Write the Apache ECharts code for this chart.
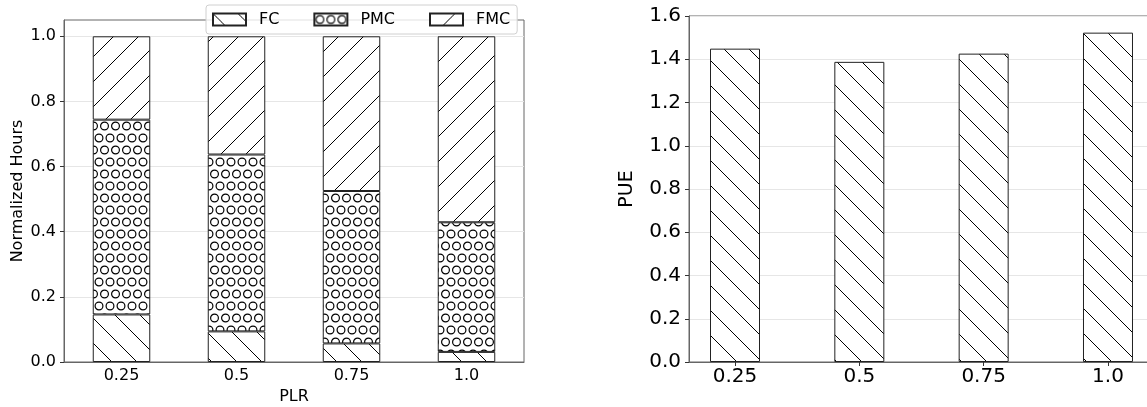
<!DOCTYPE html>
<html><head><meta charset="utf-8">
<script src="https://cdn.jsdelivr.net/npm/echarts@6/dist/echarts.min.js"></script>
<style>html,body{margin:0;padding:0;background:#fff}#c{width:1147px;height:407px}</style>
</head><body><div id="c"></div>
<script>
// ---- data ----
const categories = ['0.25', '0.5', '0.75', '1.0'];
const fcHours  = [0.146, 0.094, 0.057, 0.031];
const pmcHours = [0.598, 0.543, 0.468, 0.398];
const fmcHours = [0.256, 0.363, 0.475, 0.571];
const pueValues = [1.449, 1.388, 1.426, 1.523];
const leftYTicks = [0, 0.2, 0.4, 0.6, 0.8, 1.0];
const rightYTicks = [0, 0.2, 0.4, 0.6, 0.8, 1.0, 1.2, 1.4, 1.6];
const rightXPositions = [0, 1, 2, 3];

// ---- hatch patterns ----
function hatchLines(dir) {
  const s = 25;
  const c = document.createElement('canvas');
  c.width = s; c.height = s;
  const g = c.getContext('2d');
  g.fillStyle = '#fff'; g.fillRect(0, 0, s, s);
  g.strokeStyle = '#000'; g.lineWidth = 1;
  g.beginPath();
  for (let k = -1; k <= 1; k++) {
    if (dir === '/') { g.moveTo(k * s, s); g.lineTo(k * s + s, 0); }
    else { g.moveTo(k * s, 0); g.lineTo(k * s + s, s); }
  }
  g.stroke();
  return c;
}
function hatchCircles() {
  const w = 22, h = 24, r = 3.9;
  const c = document.createElement('canvas');
  c.width = w; c.height = h;
  const g = c.getContext('2d');
  g.fillStyle = '#fff'; g.fillRect(0, 0, w, h);
  g.strokeStyle = '#000'; g.lineWidth = 1.2;
  const pts = [[5.5, 6], [16.5, 6], [0, 18], [11, 18], [22, 18]];
  pts.forEach(p => { g.beginPath(); g.arc(p[0], p[1], r, 0, Math.PI * 2); g.stroke(); });
  return c;
}
const patBack = { image: hatchLines('\\'), repeat: 'repeat' };
const patFwd = { image: hatchLines('/'), repeat: 'repeat' };
const patCirc = { image: hatchCircles(), repeat: 'repeat' };

const FONT = 'DejaVu Sans';
const spine = '#666';
const gridLine = '#e6e6e6';
const LF = 16;   // left panel font size
const RF = 20;   // right panel font size

function barStyle(pat) {
  return { color: pat, borderColor: '#222', borderWidth: 1 };
}

const chart = echarts.init(document.getElementById('c'), null, { renderer: 'canvas' });
const option = {
  animation: false,
  backgroundColor: '#fff',
  textStyle: { fontFamily: FONT },
  legend: {
    data: ['FC', 'PMC', 'FMC'],
    left: 206, top: 5,
    padding: [5, 7, 5, 6],
    itemWidth: 33, itemHeight: 12, itemGap: 34,
    icon: 'rect',
    backgroundColor: 'rgba(255,255,255,0.8)',
    borderColor: '#d0d0d0', borderWidth: 1, borderRadius: 3,
    textStyle: { fontFamily: FONT, fontSize: LF, lineHeight: 19, color: '#000', padding: [0, 0, 0, 8] }
  },
  grid: [
    { left: 64, top: 20, width: 460, height: 342, outerBoundsMode: 'none', containLabel: false,
      show: true, borderColor: spine, borderWidth: 1, backgroundColor: 'transparent' },
    { left: 689, top: 16, width: 465, height: 346, outerBoundsMode: 'none', containLabel: false,
      show: true, borderColor: spine, borderWidth: 1, backgroundColor: 'transparent' }
  ],
  xAxis: [
    {
      type: 'category', gridIndex: 0, data: categories,
      name: 'PLR', nameLocation: 'middle', nameGap: 24,
      nameTextStyle: { fontFamily: FONT, fontSize: LF, color: '#000' },
      axisLine: { lineStyle: { color: spine, width: 1 } },
      axisTick: { alignWithLabel: true, length: 4, lineStyle: { color: '#333' } },
      axisLabel: { fontFamily: FONT, fontSize: LF, color: '#000', margin: 6 },
      splitLine: { show: false }
    },
    {
      type: 'value', gridIndex: 1, min: -0.37, max: 3.37,
      axisLine: { onZero: false, lineStyle: { color: spine, width: 1 } },
      axisTick: { length: 4, customValues: rightXPositions, lineStyle: { color: '#333' } },
      axisLabel: {
        fontFamily: FONT, fontSize: RF, color: '#000', margin: 5,
        customValues: rightXPositions,
        formatter: v => categories[Math.round(v)]
      },
      splitLine: { show: false }
    }
  ],
  yAxis: [
    {
      type: 'value', gridIndex: 0, min: 0, max: 1.05,
      name: 'Normalized Hours', nameLocation: 'middle', nameGap: 38,
      nameTextStyle: { fontFamily: FONT, fontSize: LF, color: '#000' },
      axisLine: { show: true, onZero: false, lineStyle: { color: spine, width: 1 } },
      axisTick: { show: true, length: 4, customValues: leftYTicks, lineStyle: { color: '#333' } },
      axisLabel: { fontFamily: FONT, fontSize: LF, color: '#000', margin: 8, customValues: leftYTicks,
        formatter: v => v.toFixed(1) },
      splitLine: { show: true, lineStyle: { color: gridLine, width: 1 } }
    },
    {
      type: 'value', gridIndex: 1, min: 0, max: 1.6, interval: 0.2,
      name: 'PUE', nameLocation: 'middle', nameGap: 52,
      nameTextStyle: { fontFamily: FONT, fontSize: 19, color: '#000' },
      axisLine: { show: true, onZero: false, lineStyle: { color: spine, width: 1 } },
      axisTick: { show: true, length: 4, customValues: rightYTicks, lineStyle: { color: '#333' } },
      axisLabel: { fontFamily: FONT, fontSize: RF, color: '#000', margin: 8, customValues: rightYTicks,
        formatter: v => v.toFixed(1) },
      splitLine: { show: true, lineStyle: { color: gridLine, width: 1 } }
    }
  ],
  series: [
    { name: 'FC', type: 'bar', stack: 'hours', xAxisIndex: 0, yAxisIndex: 0, barWidth: '50%',
      data: fcHours, itemStyle: barStyle(patBack) },
    { name: 'PMC', type: 'bar', stack: 'hours', xAxisIndex: 0, yAxisIndex: 0, barWidth: '50%',
      data: pmcHours, itemStyle: barStyle(patCirc) },
    { name: 'FMC', type: 'bar', stack: 'hours', xAxisIndex: 0, yAxisIndex: 0, barWidth: '50%',
      data: fmcHours, itemStyle: barStyle(patFwd) },
    { name: 'PUE', type: 'bar', xAxisIndex: 1, yAxisIndex: 1, barWidth: 50,
      data: pueValues.map((v, i) => [rightXPositions[i], v]), itemStyle: barStyle(patBack) }
  ]
};
chart.setOption(option);
</script>
</body></html>
